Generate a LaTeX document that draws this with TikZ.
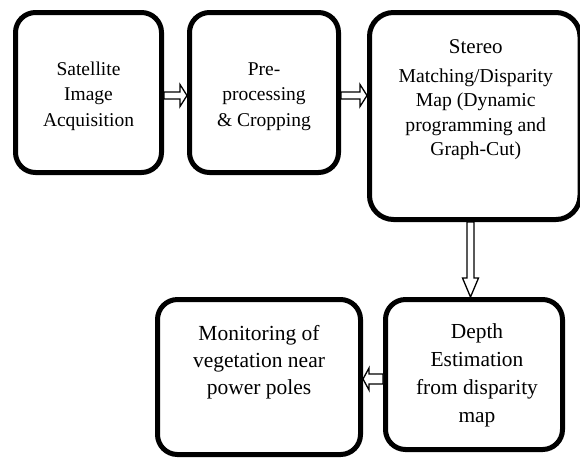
\documentclass[tikz,border=0pt]{standalone}
\usepackage{fontspec}
\setmainfont{Liberation Serif}
\usetikzlibrary{calc}
\begin{document}
\begin{tikzpicture}[x=1pt,y=-1pt,
  box/.style={draw=black, line width=5pt, rounded corners=20pt, fill=white, inner sep=0pt},
  txt/.style={inner sep=0pt, align=center, anchor=north},
  barrow/.style={draw=black, line width=1.3pt, fill=white, line join=miter}]
\useasboundingbox (0,0) rectangle (580,459);
% boxes
\node[box, minimum width=146pt, minimum height=160pt] (b1) at (88.5,92.5) {};
\node[box, minimum width=149pt, minimum height=160pt] (b2) at (264,92.5) {};
\node[box, minimum width=210.5pt, minimum height=207pt, rounded corners=24pt] (b3) at (474.75,116) {};
\node[box, minimum width=177pt, minimum height=150pt] (b4) at (474,374.5) {};
\node[box, minimum width=203pt, minimum height=155pt] (b5) at (259,377) {};
% texts
\node[txt, font=\fontsize{19.5}{25.5}\selectfont] (t1) at ($(b1.north)+(0,47)$)
  {\rule{0pt}{18pt}Satellite\\Image\\Acquisition};
\node[txt, font=\fontsize{19.5}{25.5}\selectfont] (t2) at ($(b2.north)+(0,47)$)
  {\rule{0pt}{18pt}Pre-\\processing\\\& Cropping};
\node[txt, font=\fontsize{19.7}{24.5}\selectfont] (t3) at ($(b3.north)+(1,25)$)
  {{\fontsize{21}{24.5}\selectfont\rule{0pt}{18pt}Stereo}\\[4.5pt]Matching/Disparity\\Map (Dynamic\\programming and\\Graph-Cut)};
\node[txt, font=\fontsize{21.4}{28}\selectfont] (t4) at ($(b4.north)+(3,23)$)
  {\rule{0pt}{18pt}Depth\\Estimation\\from disparity\\map};
\node[txt, font=\fontsize{21.5}{27}\selectfont] (t5) at ($(b5.north)+(0,25)$)
  {\rule{0pt}{18pt}Monitoring of\\vegetation near\\power poles};
% block arrows
\coordinate (a1s) at ($(b1.east)+(0,3)$);
\coordinate (a1e) at (a1s -| b2.west);
\draw[barrow] ($(a1s)+(0,-3.5)$) -- ($(a1e)+(-7,-3.5)$) -- ($(a1e)+(-7,-11)$) -- (a1e)
  -- ($(a1e)+(-7,11)$) -- ($(a1e)+(-7,3.5)$) -- ($(a1s)+(0,3.5)$) -- cycle;
\coordinate (a2s) at ($(b2.east)+(0,3)$);
\coordinate (a2e) at (a2s -| b3.west);
\draw[barrow] ($(a2s)+(0,-3.5)$) -- ($(a2e)+(-7,-3.5)$) -- ($(a2e)+(-7,-11)$) -- (a2e)
  -- ($(a2e)+(-7,11)$) -- ($(a2e)+(-7,3.5)$) -- ($(a2s)+(0,3.5)$) -- cycle;
\coordinate (a3s) at ($(b3.south)+(-4.25,0)$);
\coordinate (a3e) at (a3s |- b4.north);
\draw[barrow] ($(a3s)+(-3.5,0)$) -- ($(a3e)+(-3.5,-19)$) -- ($(a3e)+(-8,-19)$) -- (a3e)
  -- ($(a3e)+(8,-19)$) -- ($(a3e)+(3.5,-19)$) -- ($(a3s)+(3.5,0)$) -- cycle;
\coordinate (a4s) at ($(b4.west)+(0,4.5)$);
\coordinate (a4e) at (a4s -| b5.east);
\draw[barrow] ($(a4s)+(0,-5)$) -- ($(a4e)+(6,-5)$) -- ($(a4e)+(6,-11)$) -- (a4e)
  -- ($(a4e)+(6,11)$) -- ($(a4e)+(6,5)$) -- ($(a4s)+(0,5)$) -- cycle;
\end{tikzpicture}
\end{document}
